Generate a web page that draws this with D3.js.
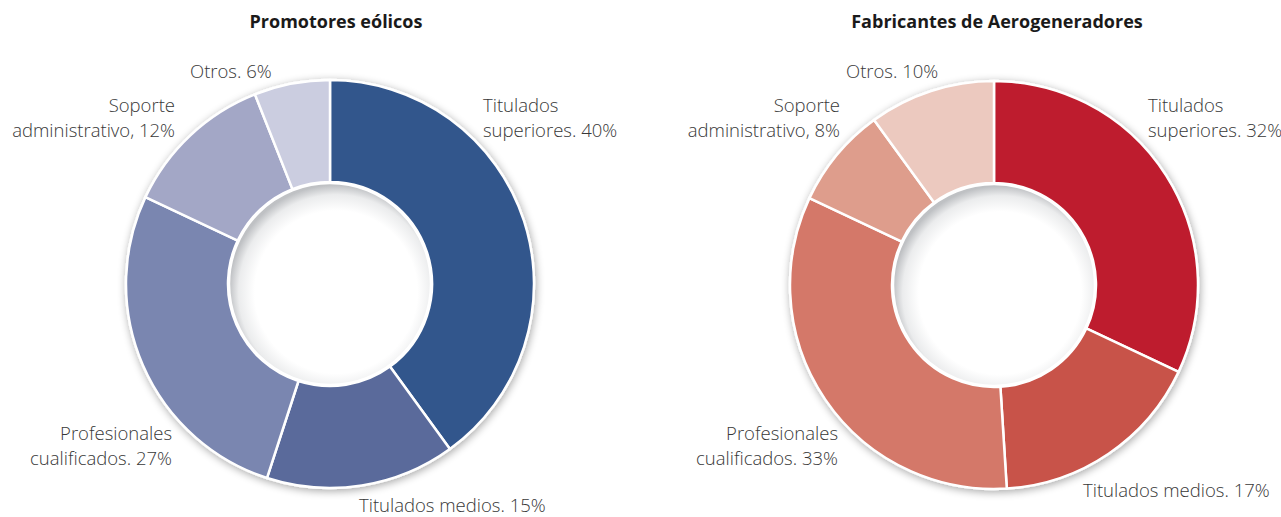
<!DOCTYPE html>
<html>
<head>
<meta charset="utf-8">
<script src="https://cdn.jsdelivr.net/npm/d3@7"></script>
<style>
  body { margin: 0; background: #fff; }
  svg { display: block; font-family: "Open Sans", "Noto Sans", sans-serif; }
</style>
</head>
<body>
<svg id="chart" width="1281" height="517"></svg>
<script>
// categories, shared by both donuts
var categories = ["Titulados superiores", "Titulados medios", "Profesionales cualificados", "Soporte administrativo", "Otros"];

// percentages
var promotoresValues = [40, 15, 27, 12, 6];
var fabricantesValues = [32, 17, 33, 8, 10];

var titles = ["Promotores eólicos", "Fabricantes de Aerogeneradores"];

// label text, two lines each
var promotoresLabels = [["Titulados", "superiores. 40%"], ["Titulados medios. 15%"], ["Profesionales", "cualificados. 27%"], ["Soporte", "administrativo, 12%"], ["Otros. 6%"]];
var fabricantesLabels = [["Titulados", "superiores. 32%"], ["Titulados medios. 17%"], ["Profesionales", "cualificados. 33%"], ["Soporte", "administrativo, 8%"], ["Otros. 10%"]];

var blues = ["#33568c", "#5a6b9b", "#7a86b0", "#a3a7c6", "#cbcde0"];
var reds = ["#be1e2d", "#c85249", "#d47869", "#de9d8c", "#ecc9bf"];

var svg = d3.select("#chart");
var defs = svg.append("defs");

// soft shadow around the ring
var f = defs.append("filter").attr("id", "shadow")
    .attr("x", "-20%").attr("y", "-20%").attr("width", "140%").attr("height", "140%");
f.append("feGaussianBlur").attr("in", "SourceAlpha").attr("stdDeviation", 4).attr("result", "b");
f.append("feOffset").attr("in", "b").attr("dx", 1).attr("dy", 2).attr("result", "o");
f.append("feComponentTransfer").attr("in", "o").attr("result", "s")
  .append("feFuncA").attr("type", "linear").attr("slope", 0.35);
var m = f.append("feMerge");
m.append("feMergeNode").attr("in", "s");
m.append("feMergeNode").attr("in", "SourceGraphic");

// hole: white centre, grey rim
var rg = defs.append("radialGradient").attr("id", "hole")
    .attr("cx", "53%").attr("cy", "54%").attr("r", "53%");
rg.append("stop").attr("offset", "0%").attr("stop-color", "#ffffff");
rg.append("stop").attr("offset", "76%").attr("stop-color", "#ffffff");
rg.append("stop").attr("offset", "91%").attr("stop-color", "#ebeced");
rg.append("stop").attr("offset", "100%").attr("stop-color", "#bfc1c4");

var charts = [
  {title: titles[0], values: promotoresValues, labels: promotoresLabels, colors: blues, cx: 330, cy: 284,
   titleX: 336,
   pos: [[483, 112, "start"], [359, 512, "start"], [172, 440, "end"], [175, 112, "end"], [190, 78, "start"]]},
  {title: titles[1], values: fabricantesValues, labels: fabricantesLabels, colors: reds, cx: 994, cy: 285,
   titleX: 997,
   pos: [[1148, 112, "start"], [1083, 497, "start"], [838, 440, "end"], [840, 112, "end"], [846, 78, "start"]]}
];

var outerR = 204, innerR = 102;

var pie = d3.pie().sort(null).value(function(d) { return d; });
var arc = d3.arc().innerRadius(innerR).outerRadius(outerR);

charts.forEach(function(c) {
  var g = svg.append("g").attr("transform", "translate(" + c.cx + "," + c.cy + ")");

  var ring = g.append("g").attr("filter", "url(#shadow)");
  ring.selectAll("path")
    .data(pie(c.values))
    .enter().append("path")
    .attr("d", arc)
    .attr("fill", function(d, i) { return c.colors[i]; })
    .attr("stroke", "#fff")
    .attr("stroke-width", 2.5)
    .attr("stroke-linejoin", "round");

  g.append("circle")
    .attr("r", innerR - 1)
    .attr("fill", "url(#hole)")
    .attr("stroke", "#fff")
    .attr("stroke-width", 2.5);

  svg.append("text")
    .attr("x", c.titleX)
    .attr("y", 28)
    .attr("text-anchor", "middle")
    .style("font-weight", "bold")
    .style("font-size", "18px")
    .style("fill", "#1a1a1a")
    .text(c.title);

  c.labels.forEach(function(lines, i) {
    var t = svg.append("text")
      .attr("x", c.pos[i][0])
      .attr("y", c.pos[i][1])
      .attr("text-anchor", c.pos[i][2])
      .style("font-size", "18.5px")
      .style("font-weight", 300)
      .style("fill", "#383838");
    lines.forEach(function(s, k) {
      t.append("tspan")
        .attr("x", c.pos[i][0])
        .attr("dy", k === 0 ? 0 : 25)
        .text(s);
    });
  });
});
</script>
</body>
</html>
